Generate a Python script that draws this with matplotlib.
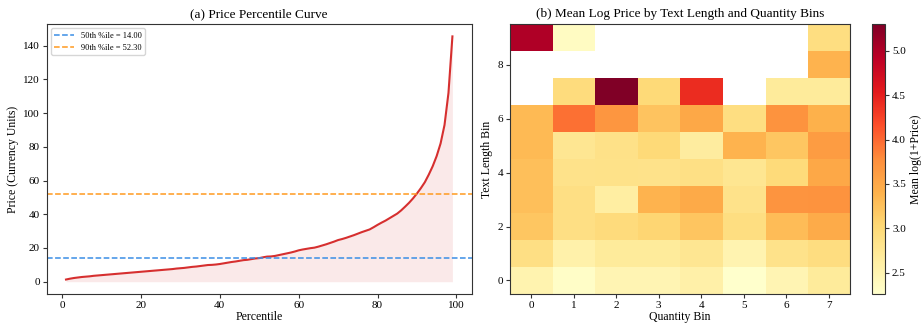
import numpy as np
import matplotlib
matplotlib.use("Agg")
import matplotlib.pyplot as plt

plt.rcParams['font.family'] = ['Liberation Serif', 'DejaVu Serif']

percentiles = list(range(1, 100))
prices = [1.3, 1.8, 2.2, 2.5, 2.8, 3.0, 3.2, 3.5, 3.7, 3.9,
          4.1, 4.3, 4.5, 4.7, 4.9, 5.1, 5.3, 5.5, 5.7, 5.9,
          6.1, 6.3, 6.5, 6.7, 6.9, 7.1, 7.3, 7.5, 7.8, 8.0,
          8.2, 8.5, 8.8, 9.0, 9.3, 9.6, 9.9, 10.0, 10.2, 10.5,
          10.9, 11.3, 11.7, 12.0, 12.4, 12.8, 13.0, 13.4, 13.8, 14.0,
          14.5, 14.9, 15.0, 15.3, 15.8, 16.3, 16.8, 17.3, 17.9, 18.6,
          19.1, 19.5, 19.9, 20.2, 20.8, 21.5, 22.2, 23.0, 23.8, 24.7,
          25.3, 26.0, 26.8, 27.6, 28.5, 29.4, 30.2, 31.0, 32.3, 33.7,
          35.0, 36.2, 37.6, 39.0, 40.4, 42.3, 44.5, 46.8, 49.4, 52.3,
          55.5, 59.0, 63.5, 68.5, 74.5, 82.0, 93.0, 112.0, 145.5]
p50 = 14.00
p90 = 52.30

qty_bins = [0, 1, 2, 3, 4, 5, 6, 7]
len_bins = [0, 1, 2, 3, 4, 5, 6, 7, 8, 9]
nan = np.nan
mean_log = [
    [2.52, 2.30, 2.48, 2.48, 2.57, 2.26, 2.48, 2.68],  # row 0
    [2.90, 2.55, 2.68, 2.68, 2.77, 2.50, 2.83, 2.93],  # row 1
    [3.20, 2.90, 2.97, 3.05, 3.22, 2.92, 3.30, 3.47],  # row 2
    [3.28, 2.90, 2.62, 3.38, 3.48, 2.83, 3.70, 3.72],  # row 3
    [3.27, 2.83, 2.85, 2.83, 2.88, 2.78, 2.98, 3.50],  # row 4
    [3.32, 2.77, 2.86, 3.00, 2.65, 3.38, 3.20, 3.62],  # row 5
    [3.32, 3.95, 3.68, 3.23, 3.50, 2.92, 3.72, 3.40],  # row 6
    [nan, 2.95, 5.30, 3.00, 4.40, nan, 2.68, 2.68],    # row 7
    [nan, nan, nan, nan, nan, nan, nan, 3.38],         # row 8
    [5.00, 2.35, nan, nan, nan, nan, nan, 2.92],       # row 9
]

fig = plt.figure(figsize=(9.21, 3.26), dpi=100)
ax1 = fig.add_axes([0.0507, 0.0982, 0.4615, 0.8278])
ax2 = fig.add_axes([0.5537, 0.0982, 0.3692, 0.8278])
cax = fig.add_axes([0.9465, 0.0982, 0.0145, 0.8278])

TICK = dict(labelsize=8, length=3, pad=2, color='#333333')

line_color = '#d62f2f'
ax1.plot(percentiles, prices, color=line_color, lw=1.5)
ax1.fill_between(percentiles, prices, 0, color=line_color, alpha=0.1, lw=0)
ax1.axhline(p50, color='#3a8ee6', ls='--', lw=1.1, label=f'50th %ile = {p50:.2f}')
ax1.axhline(p90, color='#ff9a1f', ls='--', lw=1.1, label=f'90th %ile = {p90:.2f}')
ax1.set_title('(a) Price Percentile Curve', fontsize=9.5, pad=5)
ax1.set_xlabel('Percentile', fontsize=8.5, labelpad=1)
ax1.set_ylabel('Price (Currency Units)', fontsize=8.5, labelpad=3)
ax1.tick_params(**TICK)
ax1.legend(loc='upper left', fontsize=6, handlelength=2.4)

data = np.array(mean_log, dtype=float)
cmap = plt.get_cmap('YlOrRd').copy()
cmap.set_bad('white')
im = ax2.imshow(np.ma.masked_invalid(data), cmap=cmap, origin='lower', aspect='auto',
                extent=[-0.5, len(qty_bins) - 0.5, -0.5, len(len_bins) - 0.5])
ax2.set_xticks(qty_bins)
ax2.set_yticks([0, 2, 4, 6, 8])
ax2.set_title('(b) Mean Log Price by Text Length and Quantity Bins', fontsize=9.5, pad=5)
ax2.set_xlabel('Quantity Bin', fontsize=8.5, labelpad=1)
ax2.set_ylabel('Text Length Bin', fontsize=8.5, labelpad=3)
ax2.tick_params(**TICK)
cb = fig.colorbar(im, cax=cax)
cb.set_label('Mean log(1+Price)', fontsize=8.5, labelpad=3)
cb.ax.tick_params(**TICK)

for a in [ax1, ax2, cax]:
    for s in a.spines.values():
        s.set_color('#333333')

fig.savefig('out.png', dpi=100)
